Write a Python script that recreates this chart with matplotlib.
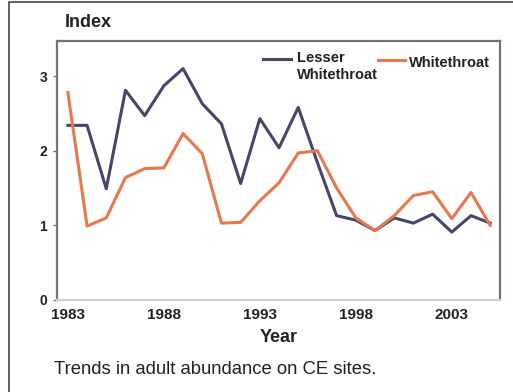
import matplotlib.pyplot as plt
from matplotlib.lines import Line2D

plt.rcParams['font.family'] = ['Liberation Sans', 'DejaVu Sans']

years = list(range(1983, 2006))
lesser = [2.34, 2.34, 1.49, 2.81, 2.47, 2.87, 3.10, 2.63, 2.36, 1.56, 2.43, 2.04,
          2.58, 1.84, 1.13, 1.07, 0.93, 1.10, 1.03, 1.15, 0.91, 1.13, 1.03]
whitethroat = [2.78, 0.99, 1.10, 1.64, 1.76, 1.77, 2.23, 1.96, 1.03, 1.04, 1.33, 1.57,
               1.97, 2.00, 1.50, 1.10, 0.93, 1.13, 1.40, 1.45, 1.09, 1.44, 1.00]
xticks = [1983, 1988, 1993, 1998, 2003]
yticks = [0, 1, 2, 3]

dark = "#45466a"
orange = "#e8774e"
txt = "#222222"

fig = plt.figure(figsize=(5.13, 3.92), dpi=100)
ax = fig.add_axes([0.111, 0.2347, 0.864, 0.6607])

ax.plot(years, lesser, color=dark, linewidth=2.2)
ax.plot(years, whitethroat, color=orange, linewidth=2.2)

ax.set_xlim(1982.43, 2005.52)
ax.set_ylim(0, 3.47)
ax.set_xticks(xticks)
ax.set_yticks(yticks)
ax.tick_params(axis="x", length=0, labelsize=11, pad=6)
ax.tick_params(axis="y", length=3, width=1, color="#7a7070", labelsize=10, pad=4)
for lab in ax.get_xticklabels() + ax.get_yticklabels():
    lab.set_fontweight("bold")
    lab.set_color(txt)

for side in ["left", "right", "top"]:
    ax.spines[side].set_color("#7a7070")
    ax.spines[side].set_linewidth(1.6)
ax.spines["bottom"].set_color("#d8d0d0")
ax.spines["bottom"].set_linewidth(1.6)

ax.set_xlabel("Year", fontsize=13, fontweight="bold", color=txt, labelpad=5)
fig.text(0.127, 0.943, "Index", fontsize=13, fontweight="bold", color=txt,
         ha="left", va="center")

# legend, drawn by hand so the handle sits on the first text line
ax.add_line(Line2D([0.465, 0.528], [0.93, 0.93], transform=ax.transAxes,
                   color=dark, linewidth=2.2))
ax.text(0.542, 0.919, "Lesser", transform=ax.transAxes, fontsize=10.5,
        fontweight="bold", color=txt, va="baseline")
ax.text(0.542, 0.855, "Whitethroat", transform=ax.transAxes, fontsize=10.5,
        fontweight="bold", color=txt, va="baseline")
ax.add_line(Line2D([0.724, 0.786], [0.925, 0.925], transform=ax.transAxes,
                   color=orange, linewidth=2.2))
ax.text(0.795, 0.9, "Whitethroat", transform=ax.transAxes, fontsize=10.5,
        fontweight="bold", color=txt, va="baseline")

fig.text(0.105, 0.058, "Trends in adult abundance on CE sites.", fontsize=13.3,
         color=txt, ha="left", va="center")

# outer frame (left and top edges only)
fig.add_artist(Line2D([0.017, 0.017, 1.0], [0.0, 0.994, 0.994],
                      transform=fig.transFigure, color="#444444", linewidth=1.2))

fig.savefig("out.png", dpi=100)
